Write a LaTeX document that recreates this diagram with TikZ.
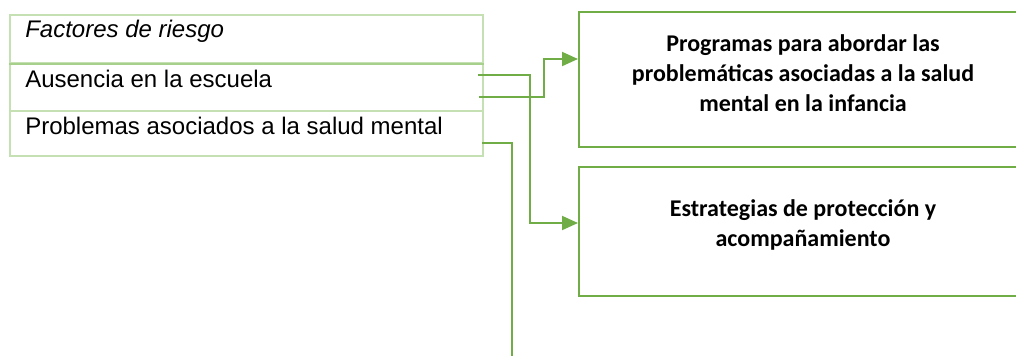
\documentclass[tikz,border=0pt]{standalone}
\usepackage{fontspec}
\setmainfont{Liberation Sans}
\newfontfamily\boxfont{Carlito}
\usetikzlibrary{arrows.meta}
\definecolor{gline}{HTML}{70AD47}
\definecolor{glight}{HTML}{C5E0B3}
\definecolor{gmid}{HTML}{A8D08D}
\begin{document}
\begin{tikzpicture}[x=0.75pt,y=-0.75pt,
  rowbox/.style={draw=glight,line width=1pt,minimum width=354.75pt,inner sep=0pt},
  rowtext/.style={anchor=base west,inner sep=0pt,font=\fontsize{18}{21.6}\selectfont},
  targetbox/.style={draw=gline,line width=1.5pt,minimum width=336pt,inner sep=0pt},
  targettext/.style={align=center,inner sep=0pt,font=\boxfont\bfseries\fontsize{18}{22.5}\selectfont},
  conn/.style={draw=gline,line width=1.5pt},
  arr/.style={conn,-{Triangle[length=12pt,width=10.5pt]}}]
\useasboundingbox (0,0) rectangle (1016,355);
\clip (0,0) rectangle (1016,355);

% table of risk factors
\node[rowbox,minimum height=36pt] (r1) at (246.5,39) {};
\node[rowbox,minimum height=36pt] (r2) at (246.5,87) {};
\node[rowbox,minimum height=33.75pt] (r3) at (246.5,133.5) {};
\draw[gmid,line width=1.7pt] (r1.south west) -- (r1.south east);
\node[rowtext] (t1) at (25,37) {\itshape Factores de riesgo};
\node[rowtext] (t2) at (25,87) {Ausencia en la escuela};
\node[rowtext] (t3) at (25,134) {Problemas asociados a la salud mental};

% target boxes
\node[targetbox,minimum height=101.25pt] (b1) at (803,79.5) {};
\node[targettext] (bt1) at (803,73) {Programas para abordar las\\problemáticas asociadas a la salud\\mental en la infancia};
\node[targetbox,minimum height=96.75pt] (b2) at (803,231.5) {};
\node[targettext] (bt2) at (803,225) {Estrategias de protección y\\acompañamiento};

% connectors
\coordinate (s1) at (478,75);
\coordinate (s2) at (479,97);
\coordinate (s3) at (482,143);
\coordinate (in1) at ([yshift=-36pt]b1.north west);
\coordinate (in2) at ([yshift=-42.75pt]b2.north west);
\coordinate (e3) at (512,360);
\draw[arr] (s1) -- (530,75) |- (in2);
\draw[arr] (s2) -- (544,97) |- (in1);
\draw[conn] (s3) -| (e3);
\end{tikzpicture}
\end{document}
